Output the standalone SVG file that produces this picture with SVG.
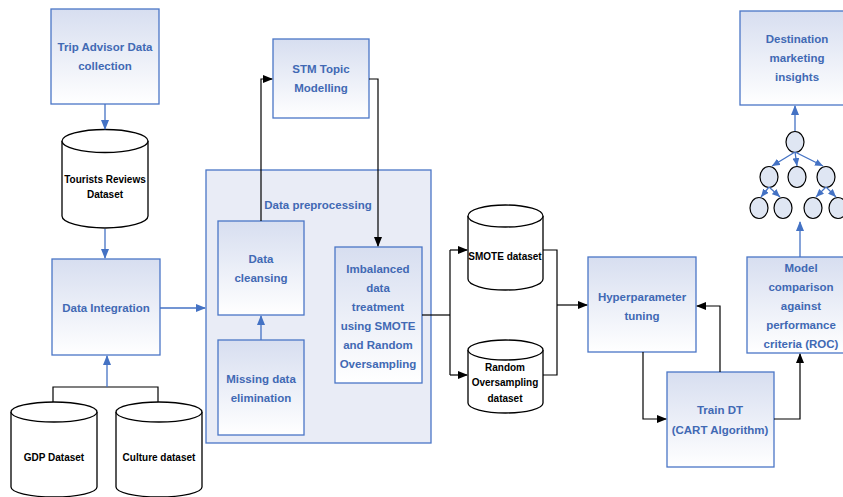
<svg xmlns="http://www.w3.org/2000/svg" width="843" height="497" viewBox="0 0 843 497">
<defs>
<linearGradient id="g" x1="0" y1="0" x2="0" y2="1">
<stop offset="0" stop-color="#d7def0"/>
<stop offset="1" stop-color="#ffffff"/>
</linearGradient>
<marker id="ab" markerUnits="userSpaceOnUse" markerWidth="10" markerHeight="8" refX="9" refY="4" orient="auto">
<path d="M0,0 L10,4 L0,8 z" fill="#4472c4"/>
</marker>
<marker id="abs" markerUnits="userSpaceOnUse" markerWidth="8" markerHeight="7" refX="8" refY="3.5" orient="auto">
<path d="M0,0 L8,3.5 L0,7 z" fill="#4472c4"/>
</marker>
<marker id="ak" markerUnits="userSpaceOnUse" markerWidth="10" markerHeight="8" refX="9" refY="4" orient="auto">
<path d="M0,0 L10,4 L0,8 z" fill="#000"/>
</marker>
</defs>
<style>
.box{fill:url(#g);stroke:#4a76c6;stroke-width:1.3}
.t{font-family:"Liberation Sans",Arial,sans-serif;font-weight:bold;font-size:11.5px;fill:#4169b4;text-anchor:middle}
.c{font-family:"Liberation Sans",Arial,sans-serif;font-weight:bold;font-size:10px;fill:#000;text-anchor:middle}
.cyl{fill:#fff;stroke:#000;stroke-width:1.3}
.bl{fill:none;stroke:#4472c4;stroke-width:1.3}
.bk{fill:none;stroke:#000;stroke-width:1.2}
.nd{fill:#dfe6f3;stroke:#000;stroke-width:1.2}
</style>

<g id="preprocessing">
<rect x="206" y="170" width="225" height="273" fill="#e9ecf6" stroke="#4a76c6" stroke-width="1.3"/>
<text class="t" x="318" y="209">Data preprocessing</text>
</g>

<g id="trip-advisor">
<rect class="box" x="51" y="9" width="108" height="95"/>
<text class="t" x="105" y="51">Trip Advisor Data</text>
<text class="t" x="105" y="70">collection</text>
</g>

<g id="tourists-reviews">
<path class="cyl" d="M62,141 A43,11.5 0 0 1 148,141 V216 A43,12 0 0 1 62,216 Z"/>
<path class="cyl" d="M62,141 A43,11.5 0 0 0 148,141"/>
<text class="c" x="105" y="183">Tourists Reviews</text>
<text class="c" x="105" y="198">Dataset</text>
</g>

<g id="data-integration">
<rect class="box" x="52" y="259" width="108" height="96"/>
<text class="t" x="106" y="312">Data Integration</text>
</g>

<g id="gdp">
<path class="cyl" d="M11,412 A43,10 0 0 1 97,412 V487 A43,10 0 0 1 11,487 Z"/>
<path class="cyl" d="M11,412 A43,10 0 0 0 97,412"/>
<text class="c" x="54" y="461">GDP Dataset</text>
</g>

<g id="culture">
<path class="cyl" d="M116,412 A43,10 0 0 1 202,412 V487 A43,10 0 0 1 116,487 Z"/>
<path class="cyl" d="M116,412 A43,10 0 0 0 202,412"/>
<text class="c" x="159" y="461">Culture dataset</text>
</g>

<g id="stm">
<rect class="box" x="273" y="39" width="96" height="79"/>
<text class="t" x="321" y="73">STM Topic</text>
<text class="t" x="321" y="92">Modelling</text>
</g>

<g id="cleansing">
<rect class="box" x="218" y="221" width="86" height="94"/>
<text class="t" x="261" y="263">Data</text>
<text class="t" x="261" y="282">cleansing</text>
</g>

<g id="missing">
<rect class="box" x="218" y="340" width="86" height="95"/>
<text class="t" x="261" y="383">Missing data</text>
<text class="t" x="261" y="402">elimination</text>
</g>

<g id="imbalanced">
<rect class="box" x="335" y="247" width="87" height="136"/>
<text class="t" x="378" y="273">Imbalanced</text>
<text class="t" x="378" y="292">data</text>
<text class="t" x="378" y="311">treatment</text>
<text class="t" x="378" y="330">using SMOTE</text>
<text class="t" x="378" y="349">and Random</text>
<text class="t" x="378" y="368">Oversampling</text>
</g>

<g id="smote">
<path class="cyl" d="M468,216 A37.5,11 0 0 1 543,216 V279 A37.5,11 0 0 1 468,279 Z"/>
<path class="cyl" d="M468,216 A37.5,11 0 0 0 543,216"/>
<text class="c" x="505" y="260">SMOTE dataset</text>
</g>

<g id="random">
<path class="cyl" d="M468,350 A37.5,10 0 0 1 543,350 V403 A37.5,10 0 0 1 468,403 Z"/>
<path class="cyl" d="M468,350 A37.5,10 0 0 0 543,350"/>
<text class="c" x="505" y="371">Random</text>
<text class="c" x="505" y="386">Oversampling</text>
<text class="c" x="505" y="402">dataset</text>
</g>

<g id="hyperparameter">
<rect class="box" x="588" y="257" width="108" height="95"/>
<text class="t" x="642" y="301">Hyperparameter</text>
<text class="t" x="642" y="320">tuning</text>
</g>

<g id="train-dt">
<rect class="box" x="667" y="372" width="107" height="95"/>
<text class="t" x="720" y="414">Train DT</text>
<text class="t" x="720" y="434">(CART Algorithm)</text>
</g>

<g id="model-comparison">
<rect class="box" x="747" y="257" width="108" height="96"/>
<text class="t" x="801" y="272">Model</text>
<text class="t" x="801" y="291">comparison</text>
<text class="t" x="801" y="310">against</text>
<text class="t" x="801" y="329">performance</text>
<text class="t" x="801" y="348">criteria (ROC)</text>
</g>

<g id="destination">
<rect class="box" x="740" y="11" width="115" height="94"/>
<text class="t" x="797" y="43">Destination</text>
<text class="t" x="797" y="62">marketing</text>
<text class="t" x="797" y="81">insights</text>
</g>

<g id="tree">
<ellipse class="nd" cx="795" cy="142" rx="9" ry="10.5"/>
<ellipse class="nd" cx="769" cy="177" rx="9" ry="10.5"/>
<ellipse class="nd" cx="797" cy="177" rx="9" ry="10.5"/>
<ellipse class="nd" cx="826" cy="177" rx="9" ry="10.5"/>
<ellipse class="nd" cx="759" cy="208" rx="9" ry="10.5"/>
<ellipse class="nd" cx="783" cy="208" rx="9" ry="10.5"/>
<ellipse class="nd" cx="813" cy="208" rx="9" ry="10.5"/>
<ellipse class="nd" cx="838" cy="208" rx="9" ry="10.5"/>
</g>

<g id="connectors">
<line class="bl" x1="105" y1="104" x2="105" y2="129" marker-end="url(#ab)"/>
<line class="bl" x1="105" y1="229" x2="105" y2="258" marker-end="url(#ab)"/>
<path class="bk" d="M53,402 V387 H158 V402"/>
<line class="bl" x1="107" y1="387" x2="107" y2="356" marker-end="url(#ab)"/>
<line class="bl" x1="160" y1="308" x2="205" y2="308" marker-end="url(#ab)"/>
<line class="bl" x1="261" y1="340" x2="261" y2="316" marker-end="url(#ab)"/>
<path class="bk" d="M261,221 V79 H272" marker-end="url(#ak)"/>
<path class="bk" d="M369,79 H378 V246" marker-end="url(#ak)"/>
<path class="bk" d="M422,315 H450"/>
<path class="bk" d="M450,250 V375"/>
<path class="bk" d="M450,250 H467" marker-end="url(#ak)"/>
<path class="bk" d="M450,375 H467" marker-end="url(#ak)"/>
<path class="bk" d="M543,250 H557 V375 H543"/>
<path class="bk" d="M557,305 H587" marker-end="url(#ak)"/>
<path class="bk" d="M643,352 V419 H666" marker-end="url(#ak)"/>
<path class="bk" d="M720,372 V306 H697" marker-end="url(#ak)"/>
<path class="bk" d="M774,419 H800 V354" marker-end="url(#ak)"/>
<line class="bl" x1="800" y1="257" x2="800" y2="222" marker-end="url(#ab)"/>
<line class="bl" x1="795" y1="131" x2="795" y2="106" marker-end="url(#ab)"/>
<line class="bl" x1="795" y1="152" x2="772" y2="166" marker-end="url(#abs)"/>
<line class="bl" x1="795" y1="152" x2="797" y2="166" marker-end="url(#abs)"/>
<line class="bl" x1="795" y1="152" x2="823" y2="166" marker-end="url(#abs)"/>
<line class="bl" x1="769" y1="187" x2="761" y2="197" marker-end="url(#abs)"/>
<line class="bl" x1="769" y1="187" x2="780" y2="197" marker-end="url(#abs)"/>
<line class="bl" x1="826" y1="187" x2="816" y2="197" marker-end="url(#abs)"/>
<line class="bl" x1="826" y1="187" x2="836" y2="197" marker-end="url(#abs)"/>
</g>
</svg>
